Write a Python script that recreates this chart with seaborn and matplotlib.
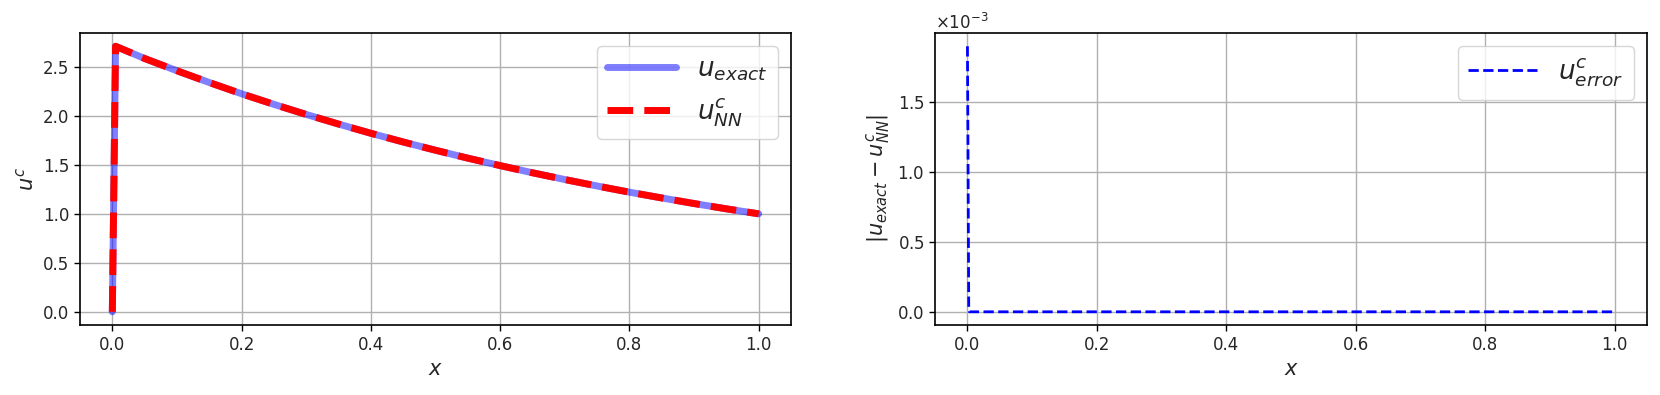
import numpy as np
import pandas as pd
import matplotlib
matplotlib.use("Agg")
import matplotlib.pyplot as plt
import seaborn as sns

# ---- data ----
x_u = [0.0, 0.005, 0.05, 0.10, 0.15, 0.20, 0.25, 0.30, 0.35, 0.40, 0.45, 0.50,
       0.55, 0.60, 0.65, 0.70, 0.75, 0.80, 0.85, 0.90, 0.95, 1.00]
u_exact = [0.0, 2.71, 2.585, 2.46, 2.34, 2.225, 2.117, 2.014, 1.916, 1.822, 1.733, 1.649,
           1.568, 1.492, 1.419, 1.350, 1.284, 1.221, 1.162, 1.105, 1.051, 1.0]
u_nn = [0.0, 2.71, 2.585, 2.46, 2.34, 2.225, 2.117, 2.014, 1.916, 1.822, 1.733, 1.649,
        1.568, 1.492, 1.419, 1.350, 1.284, 1.221, 1.162, 1.105, 1.051, 1.0]

x_err = [0.0, 0.001, 0.002, 0.003, 0.01, 0.1, 0.2, 0.3, 0.4, 0.5, 0.6, 0.7, 0.8, 0.9, 1.0]
err = [1.9e-3, 1.0e-3, 3e-5, 0.0, 0.0, 0.0, 0.0, 0.0, 0.0, 0.0, 0.0, 0.0, 0.0, 0.0, 0.0]

sns.set_style("ticks")
plt.rcParams['font.family'] = ['DejaVu Sans']
plt.rcParams['mathtext.fontset'] = 'dejavusans'

fig = plt.figure(figsize=(16.6, 3.95), dpi=100)
ax1 = fig.add_axes([0.0482, 0.177, 0.4283, 0.7395])
ax2 = fig.add_axes([0.5633, 0.177, 0.4289, 0.7395])

df_u = pd.DataFrame({"x": x_u, "exact": u_exact, "nn": u_nn})
sns.lineplot(data=df_u, x="x", y="exact", ax=ax1, color="blue", alpha=0.5, lw=5,
             label=r"$u_{exact}$", sort=False, estimator=None)
sns.lineplot(data=df_u, x="x", y="nn", ax=ax1, color="red", lw=5, linestyle="--",
             label=r"$u^c_{NN}$", sort=False, estimator=None)
ax1.set_xlabel(r"$x$", fontsize=15)
ax1.set_ylabel(r"$u^c$", fontsize=15)

df_e = pd.DataFrame({"x": x_err, "err": err})
sns.lineplot(data=df_e, x="x", y="err", ax=ax2, color="blue", lw=2, linestyle="--",
             label=r"$u^c_{error}$", sort=False, estimator=None)
ax2.set_xlabel(r"$x$", fontsize=15)
ax2.set_ylabel(r"$|u_{exact} - u^c_{NN}|$", fontsize=15)
ax2.ticklabel_format(axis="y", style="sci", scilimits=(0, 0), useMathText=True)
ax2.yaxis.get_offset_text().set_fontsize(12)

for ax in (ax1, ax2):
    ax.grid(True, color="#b0b0b0", linewidth=1)
    ax.tick_params(labelsize=12, direction="out", length=4, width=1, color="black")
    for s in ax.spines.values():
        s.set_color("black")
        s.set_linewidth(1.2)
    ax.set_xticks([0.0, 0.2, 0.4, 0.6, 0.8, 1.0])

ax1.set_yticks([0.0, 0.5, 1.0, 1.5, 2.0, 2.5])
ax1.legend(loc="upper right", fontsize=19, handlelength=2.6, framealpha=0.8)
ax2.legend(loc="upper right", fontsize=19, handlelength=2.6, framealpha=0.8)

fig.savefig("out.png", dpi=100)
